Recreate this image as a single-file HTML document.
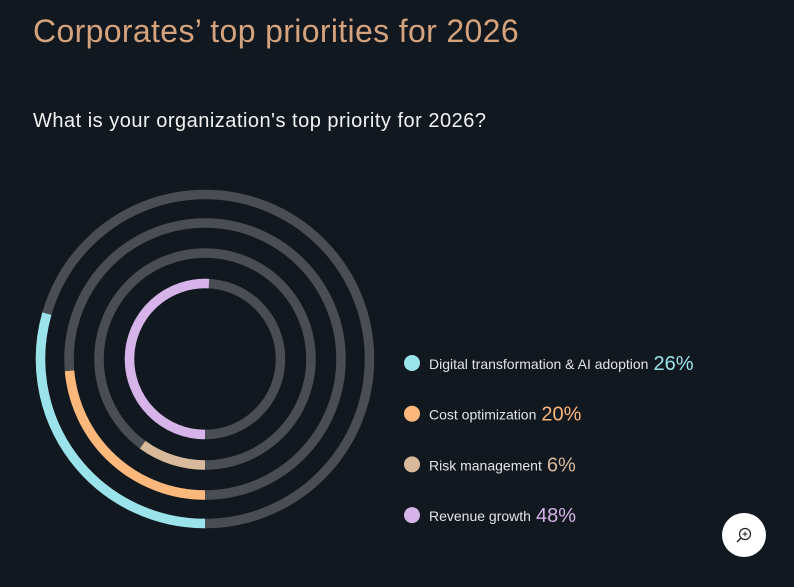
<!DOCTYPE html>
<html><head><meta charset="utf-8"><style>
body{margin:0;width:794px;height:587px;background:#111820;overflow:hidden;font-family:"Liberation Sans",sans-serif;position:relative}
.t{position:absolute;left:33px;top:13px;font-size:32px;color:#d4a27c;letter-spacing:0.35px;font-weight:300}
.s{position:absolute;left:33px;top:110px;font-size:20px;color:#f2f2f2;letter-spacing:0.5px}
.z{position:absolute;left:722px;top:513px;width:44px;height:44px;border-radius:50%;background:#fff}
</style></head><body>
<div class="t">Corporates’ top priorities for 2026</div>
<div class="s">What is your organization's top priority for 2026?</div>
<svg id="c" width="794" height="587" style="position:absolute;left:0;top:0"></svg>
<div class="z"><svg width="44" height="44"><circle cx="23" cy="21" r="5.5" fill="none" stroke="#222" stroke-width="1.2"/><line x1="19" y1="25" x2="15" y2="29" stroke="#222" stroke-width="1.4"/><line x1="20.5" y1="21" x2="25.5" y2="21" stroke="#222" stroke-width="1"/><line x1="23" y1="18.5" x2="23" y2="23.5" stroke="#222" stroke-width="1"/></svg></div>
<script>
const categories=["Digital transformation & AI adoption","Cost optimization","Risk management","Revenue growth"];
const values=[26,20,6,48];
const colors=["#9be3ea","#fcb77a","#d9b99b","#d6b3e8"];
const svg=document.getElementById('c');const NS='http://www.w3.org/2000/svg';
const cx=205,cy=359,radii=[164.5,136,106,75.5],sw=9.5;
function ang(v){return 15+v*3.5;}
function pt(r,a){const t=a*Math.PI/180;return [cx-r*Math.sin(t),cy+r*Math.cos(t)];}
values.forEach((v,i)=>{
 const r=radii[i];
 const bg=document.createElementNS(NS,'circle');
 bg.setAttribute('cx',cx);bg.setAttribute('cy',cy);bg.setAttribute('r',r);
 bg.setAttribute('fill','none');bg.setAttribute('stroke','#4a4e52');bg.setAttribute('stroke-width',sw);
 
 
 svg.appendChild(bg);
 const a=ang(v);const [x0,y0]=pt(r,0);const [x1,y1]=pt(r,a);
 const p=document.createElementNS(NS,'path');
 p.setAttribute('d',`M${x0},${y0} A${r},${r} 0 ${a>180?1:0} 1 ${x1},${y1}`);
 p.setAttribute('fill','none');p.setAttribute('stroke',colors[i]);p.setAttribute('stroke-width',sw);
 
 
 svg.appendChild(p);
 const y=363+i*50.7;
 const g=document.createElementNS(NS,'g');
 
 
 g.innerHTML=`<circle cx="412" cy="${y}" r="8" fill="${colors[i]}"/>`;
 const tx=document.createElementNS(NS,'text');
 tx.setAttribute('x',429);tx.setAttribute('y',y+6);tx.setAttribute('fill','#e4e4e4');tx.setAttribute('font-size','14');
 tx.setAttribute('font-family','Liberation Sans, sans-serif');
 tx.textContent=categories[i];g.appendChild(tx);svg.appendChild(g);
 const w=tx.getComputedTextLength();
 const pv=document.createElementNS(NS,'text');
 pv.setAttribute('x',429+w+5);pv.setAttribute('y',y+7);pv.setAttribute('fill',colors[i]);pv.setAttribute('font-size','20');
 pv.setAttribute('font-family','Liberation Sans, sans-serif');
 
 
 pv.textContent=v+'%';g.appendChild(pv);
});
</script>
</body></html>
